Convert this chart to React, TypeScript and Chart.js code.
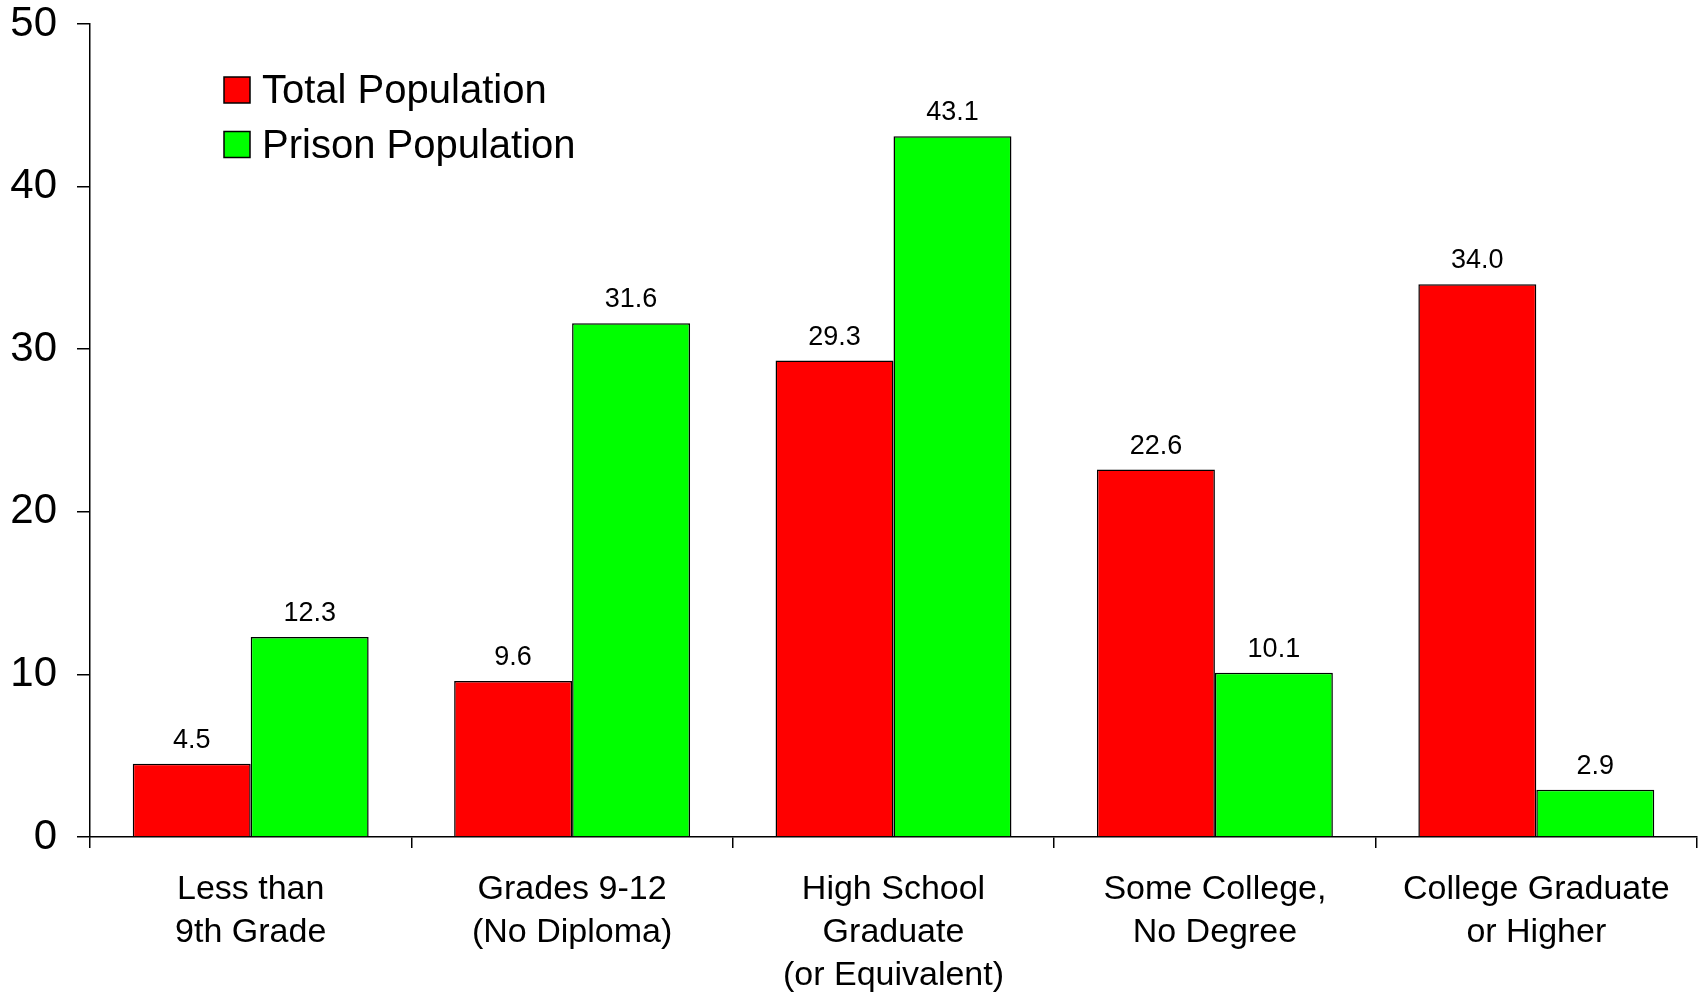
import React, { useEffect, useRef } from "react";
import { Chart, registerables } from "chart.js";

Chart.register(...registerables);

const categories: string[][] = [
  ["Less than", "9th Grade"],
  ["Grades 9-12", "(No Diploma)"],
  ["High School", "Graduate", "(or Equivalent)"],
  ["Some College,", "No Degree"],
  ["College Graduate", "or Higher"],
];
const seriesNames = ["Total Population", "Prison Population"];
const totalPopulation = [4.5, 9.6, 29.3, 22.6, 34.0];
const prisonPopulation = [12.3, 31.6, 43.1, 10.1, 2.9];
const seriesColors = ["#ff0000", "#00ff00"];
const yTicks = [0, 10, 20, 30, 40, 50];

const FONT = "'Liberation Sans', Arial, sans-serif";

const valueLabels = {
  id: "valueLabels",
  afterDatasetsDraw(chart: any) {
    const ctx = chart.ctx;
    ctx.save();
    ctx.font = `27px ${FONT}`;
    ctx.fillStyle = "#000";
    ctx.textAlign = "center";
    ctx.textBaseline = "alphabetic";
    chart.data.datasets.forEach((ds: any, i: number) => {
      const meta = chart.getDatasetMeta(i);
      meta.data.forEach((bar: any, j: number) => {
        const v = ds.data[j] as number;
        ctx.fillText(v.toFixed(1), bar.x, bar.y - 16);
      });
    });
    ctx.restore();
  },
};

const insideLegend = {
  id: "insideLegend",
  afterDraw(chart: any) {
    const ctx = chart.ctx;
    const area = chart.chartArea;
    ctx.save();
    ctx.font = `40px ${FONT}`;
    ctx.textBaseline = "alphabetic";
    ctx.textAlign = "left";
    chart.data.datasets.forEach((ds: any, i: number) => {
      const bx = area.left + 134;
      const by = area.top + 53 + i * 54.5;
      ctx.fillStyle = ds.backgroundColor;
      ctx.fillRect(bx, by, 26, 26);
      ctx.strokeStyle = "#000";
      ctx.lineWidth = 1.5;
      ctx.strokeRect(bx, by, 26, 26);
      ctx.fillStyle = "#000";
      ctx.fillText(ds.label, area.left + 172, area.top + 79 + i * 55);
    });
    ctx.restore();
  },
};

export default function App() {
  const canvasRef = useRef<HTMLCanvasElement | null>(null);

  useEffect(() => {
    document.body.style.margin = "0";
    const canvas = canvasRef.current;
    if (!canvas) return;
    const chart = new Chart(canvas, {
      type: "bar",
      data: {
        labels: categories as any,
        datasets: [
          {
            label: seriesNames[0],
            data: totalPopulation,
            backgroundColor: seriesColors[0],
            borderColor: "#000",
            borderWidth: 1.5,
            categoryPercentage: 0.734,
            barPercentage: 1.0,
          },
          {
            label: seriesNames[1],
            data: prisonPopulation,
            backgroundColor: seriesColors[1],
            borderColor: "#000",
            borderWidth: 1.5,
            categoryPercentage: 0.734,
            barPercentage: 1.0,
          },
        ],
      },
      options: {
        animation: false,
        responsive: true,
        maintainAspectRatio: false,
        layout: { padding: { top: 24, right: 6, left: 0, bottom: 0 } },
        plugins: {
          legend: { display: false },
          tooltip: { enabled: false },
        },
        scales: {
          x: {
            grid: {
              display: true,
              drawOnChartArea: false,
              drawTicks: true,
              tickLength: 11,
              color: "#000",
              lineWidth: 1.5,
              offset: true,
            },
            border: { display: true, color: "#000", width: 1.5 },
            ticks: {
              color: "#000",
              font: { family: FONT, size: 34, lineHeight: 1.27 },
              padding: 20,
              maxRotation: 0,
              autoSkip: false,
            },
            afterFit(scale: any) {
              scale.height = 158;
              scale.paddingLeft = 0;
              scale.paddingRight = 0;
            },
          },
          y: {
            min: 0,
            max: 50,
            afterBuildTicks(scale: any) {
              scale.ticks = yTicks.map((v) => ({ value: v }));
            },
            grid: {
              display: true,
              drawOnChartArea: false,
              drawTicks: true,
              tickLength: 13,
              color: "#000",
              lineWidth: 1.5,
            },
            border: { display: true, color: "#000", width: 1.5 },
            ticks: {
              color: "#000",
              font: { family: FONT, size: 42 },
              padding: 20,
            },
            afterFit(scale: any) {
              scale.width = 90;
              scale.paddingTop = 0;
              scale.paddingBottom = 0;
            },
          },
        },
      },
      plugins: [valueLabels, insideLegend],
    });
    return () => chart.destroy();
  }, []);

  return (
    <div style={{ position: "relative", width: "1703px", height: "995px", background: "#fff" }}>
      <canvas ref={canvasRef} />
    </div>
  );
}
